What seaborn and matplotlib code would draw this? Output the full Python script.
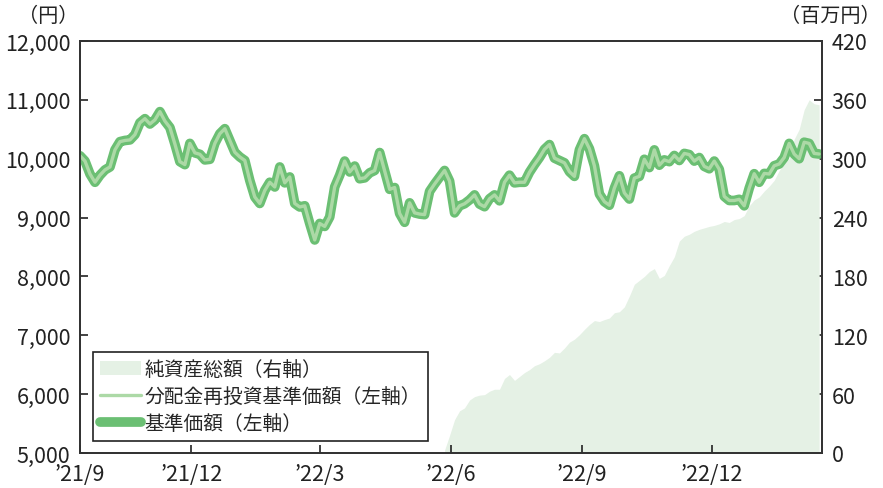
import matplotlib
matplotlib.use("Agg")
import matplotlib.pyplot as plt
from matplotlib.patches import Patch
from matplotlib.lines import Line2D
import pandas as pd
import seaborn as sns

# 基準価額 (円), sampled every few days from '21/9 to '23/2
price = [
    10050, 9960, 9740, 9600, 9720, 9810, 9860, 10150, 10290, 10310,
    10320, 10410, 10610, 10680, 10590, 10660, 10800, 10640, 10530, 10250,
    9950, 9900, 10260, 10100, 10075, 9980, 9990, 10260, 10425, 10510,
    10310, 10110, 10030, 9970, 9630, 9350, 9240, 9460, 9600, 9520,
    9860, 9590, 9690, 9240, 9180, 9200, 8900, 8620, 8900, 8850,
    9010, 9520, 9720, 9960, 9775, 9875, 9660, 9675, 9760, 9800,
    10105, 9790, 9480, 9510, 9070, 8920, 9250, 9080, 9060, 9050,
    9445, 9570, 9685, 9800, 9620, 9080, 9200, 9235, 9300, 9385,
    9230, 9185, 9320, 9385, 9285, 9600, 9720, 9590, 9600, 9600,
    9770, 9900, 10020, 10160, 10240, 10010, 9970, 9930, 9780, 9700,
    10150, 10340, 10170, 9880, 9400, 9270, 9210, 9500, 9710, 9420,
    9315, 9670, 9700, 9990, 9850, 10150, 9890, 9980, 9950, 10055,
    9970, 10090, 10070, 9960, 10020, 9870, 9830, 9960, 9820, 9360,
    9290, 9290, 9310, 9200, 9500, 9745, 9600, 9750, 9740, 9880,
    9910, 10020, 10260, 10080, 10000, 10280, 10260, 10090, 10080,
]

# 純資産総額 (百万円), fund assets start around '22/6
n_before = 73
assets_tail = [
    3, 18, 34, 43, 46, 54, 57.5, 59, 59.5, 63,
    65, 65, 76, 80, 74, 78, 82, 85, 89, 91,
    94, 97.5, 102.6, 102, 107, 113, 116, 120.6, 126, 131,
    135, 134, 136, 137.6, 143, 144, 149, 160, 172, 176,
    180, 185, 188, 178, 181, 191, 200, 216, 221, 223,
    226, 228, 229.5, 231, 232, 233.6, 236, 235, 238, 239,
    242, 252, 258, 261, 267, 272, 278, 288, 295, 300,
    320, 330, 350, 360, 356, 355,
]
assets = [float("nan")] * n_before + assets_tail

tick_dates = ["2021-09-14", "2021-12-01", "2022-03-01", "2022-06-01", "2022-09-01", "2022-12-01"]
tick_labels = ["\u201921/9", "\u201921/12", "\u201922/3", "\u201922/6", "\u201922/9", "\u201922/12"]
left_ticks = [5000, 6000, 7000, 8000, 9000, 10000, 11000, 12000]
right_ticks = [0, 60, 120, 180, 240, 300, 360, 420]

dates = pd.date_range("2021-09-14", "2023-02-14", periods=len(price))
df = pd.DataFrame({"date": dates, "price": price, "assets": assets})

sns.set_style("white")
plt.rcParams["font.family"] = ["Noto Sans CJK JP", "DejaVu Sans"]

LINE_DARK = "#6bbf73"
LINE_LIGHT = "#acd9a6"
FILL = "#e5f1e5"

fig = plt.figure(figsize=(8.83, 4.89), dpi=100)
ax = fig.add_axes([80 / 883, 35 / 489, 742 / 883, 412 / 489])
ax2 = ax.twinx()

# right axis: grid + net assets area (under the lines)
ax2.set_ylim(0, 420)
ax2.set_yticks(right_ticks)
ax2.set_yticklabels([str(v) for v in right_ticks])
ax2.set_yticks([60, 120, 180, 240, 300, 360], minor=True)
ax2.grid(True, which="minor", axis="y", color="#7a7a7a", linestyle=(0, (5, 3.5)), linewidth=1.2)
ax2.grid(False, which="major")
ax2.fill_between(df["date"], 0, df["assets"], color=FILL, linewidth=0, zorder=2)

# left axis on top, transparent
ax.set_zorder(ax2.get_zorder() + 1)
ax.patch.set_visible(False)
sns.lineplot(data=df, x="date", y="price", ax=ax, color=LINE_DARK, linewidth=7,
             solid_capstyle="round", solid_joinstyle="round")
sns.lineplot(data=df, x="date", y="price", ax=ax, color=LINE_LIGHT, linewidth=2.4,
             solid_joinstyle="round")

ax.set_xlim(pd.Timestamp("2021-09-14"), pd.Timestamp("2023-02-16"))
ax.set_ylim(5000, 12000)
ax.set_yticks(left_ticks)
ax.set_yticklabels([f"{v:,}" for v in left_ticks])
ax.set_xticks(pd.to_datetime(tick_dates))
ax.set_xticklabels(tick_labels)
ax.set_xlabel("")
ax.set_ylabel("")

for a in (ax, ax2):
    a.tick_params(direction="in", length=6, width=1.2, color="#222222",
                  labelsize=15.5, labelcolor="#222222", pad=7)
    for s in a.spines.values():
        s.set_color("#333333")
        s.set_linewidth(1.3)
ax2.tick_params(which="minor", length=0)
ax.tick_params(axis="y", left=True, right=False)
ax.tick_params(axis="x", bottom=True)
ax2.tick_params(axis="y", right=True, left=False)

fig.text(18 / 883, 1 - 16 / 489, "（円）", fontsize=14.5, color="#222222", va="center", ha="left")
fig.text(881 / 883, 1 - 16 / 489, "（百万円）", fontsize=14.5, color="#222222", va="center", ha="right")

handles = [
    Patch(facecolor=FILL, edgecolor="none"),
    Line2D([], [], color=LINE_LIGHT, linewidth=2.4),
    Line2D([], [], color=LINE_DARK, linewidth=7, solid_capstyle="round"),
]
labels = ["純資産総額（右軸）", "分配金再投資基準価額（左軸）", "基準価額（左軸）"]
leg = ax.legend(handles, labels, loc="upper left", bbox_to_anchor=(0.0175, 0.245),
                borderaxespad=0, fontsize=14.2, frameon=True, fancybox=False,
                framealpha=1, edgecolor="#222222", handlelength=2.1,
                handletextpad=0.15, labelspacing=0.3, borderpad=0.35)
leg.get_frame().set_linewidth(1.2)

fig.savefig("out.png", dpi=100)
